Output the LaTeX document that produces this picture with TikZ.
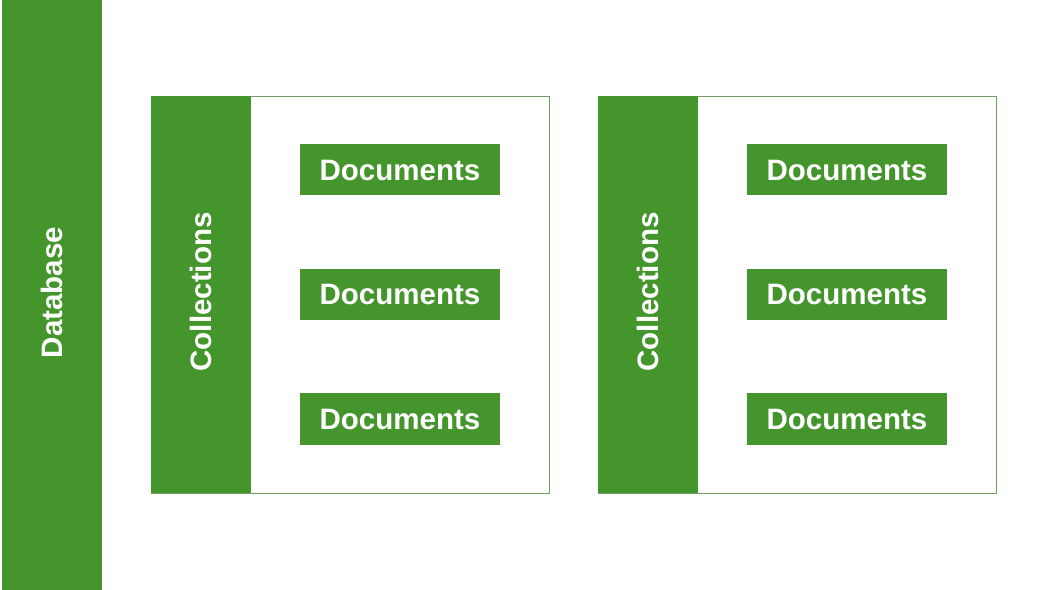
\documentclass[tikz,border=0pt]{standalone}
\usepackage{fontspec}
\setmainfont{Liberation Sans}
\definecolor{mgreen}{HTML}{45952D}
\definecolor{mframe}{HTML}{6F9E63}
% one collection: #1 = left x, #2 = name
\newcommand{\coll}[2]{
\draw[frame] (#1,97) rectangle (#1+398,494);
\fill[mgreen] (#1,97) rectangle (#1+100,494);
\node[lbl,rotate=90] (#2) at (#1+50,298) {Collections};
\foreach \y/\n in {420/a,295.5/b,171/c}{
	\node[doc] (#2\n) at (#1+249,\y) {Documents};
}}

\begin{document}
\begin{tikzpicture}[x=0.025cm,y=0.025cm,
  lbl/.style={text=white,font=\bfseries\fontsize{21}{25}\selectfont,inner sep=0},
  doc/.style={lbl,fill=mgreen,minimum width=5cm,minimum height=1.275cm},
  frame/.style={draw=mframe,line width=0.6pt,fill=white}]
\useasboundingbox (0,0) rectangle (1044,590);
\fill[white] (0,0) rectangle (1044,590);

\fill[mgreen] (2,0) rectangle (102,590);
\node[lbl,rotate=90] (db) at (52,297.5) {Database};

\coll{151}{cl}
\coll{598}{cr}

\end{tikzpicture}
\end{document}
